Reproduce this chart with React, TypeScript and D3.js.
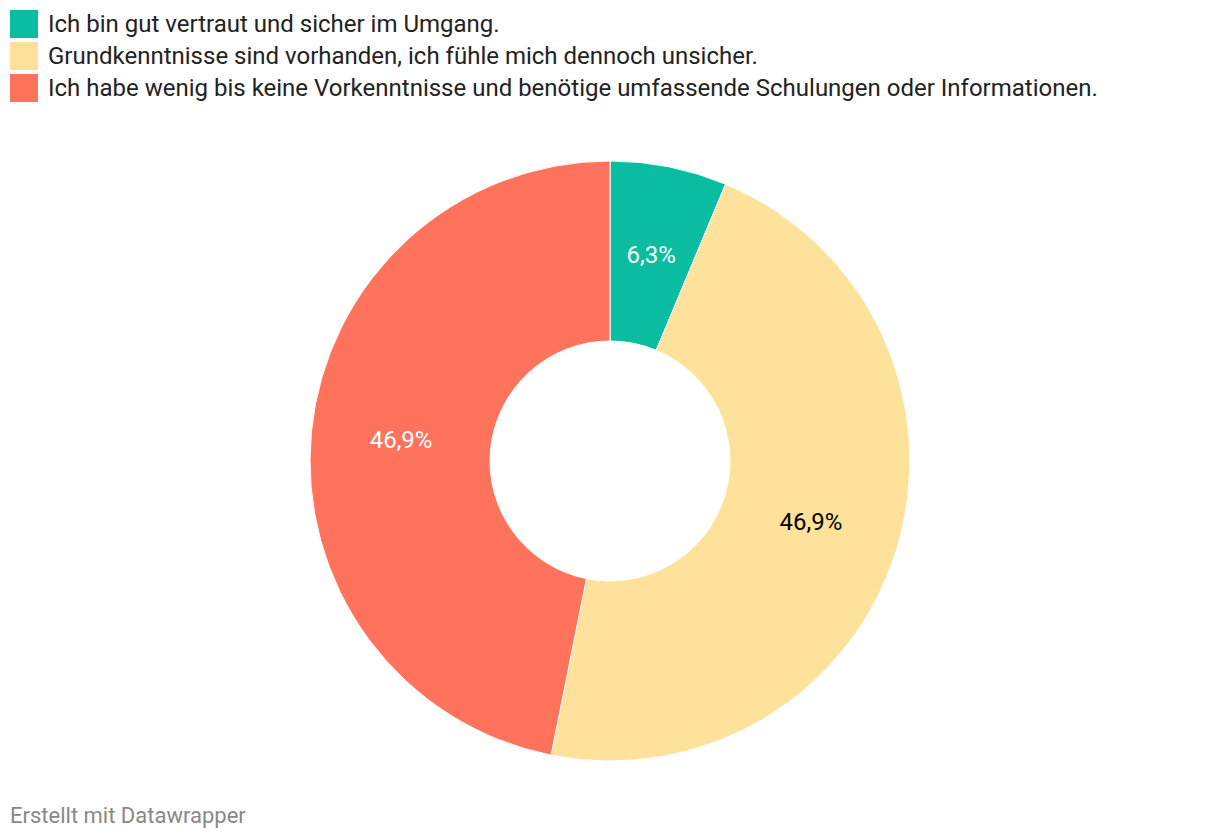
import React from "react";
import * as d3 from "d3";

const categories = [
  "Ich bin gut vertraut und sicher im Umgang.",
  "Grundkenntnisse sind vorhanden, ich fühle mich dennoch unsicher.",
  "Ich habe wenig bis keine Vorkenntnisse und benötige umfassende Schulungen oder Informationen.",
];
const values = [6.3, 46.9, 46.9];
const valueLabels = ["6,3%", "46,9%", "46,9%"];
const colors = ["#0abda0", "#fee29b", "#ff735c"];
const labelColors = ["#ffffff", "#000000", "#ffffff"];
const footer = "Erstellt mit Datawrapper";

const W = 1220;
const H = 838;
const cx = 610;
const cy = 461;
const outerR = 300;
const innerR = 120;

export default function App() {
  const pie = d3.pie<number>().sort(null).value((d) => d);
  const arcs = pie(values);
  const arcGen = d3.arc<d3.PieArcDatum<number>>().innerRadius(innerR).outerRadius(outerR);
  const font = "Roboto, 'Noto Sans', sans-serif";
  return (
    <svg width={W} height={H} style={{ position: "absolute", left: 0, top: 0, background: "#fff" }}>
      <g>
        {categories.map((c, i) => (
          <g key={i} transform={`translate(10, ${10 + i * 32})`}>
            <rect width={28} height={28} fill={colors[i]} />
            <text x={38} y={22} fontFamily={font} fontSize={24} fill="#222">
              {c}
            </text>
          </g>
        ))}
      </g>
      <g transform={`translate(${cx}, ${cy})`}>
        {arcs.map((a, i) => (
          <path key={i} d={arcGen(a) || ""} fill={colors[i]} stroke="#fff" strokeWidth={1} />
        ))}
        {arcs.map((a, i) => {
          const [x, y] = arcGen.centroid(a);
          return (
            <text
              key={"l" + i}
              x={x}
              y={y}
              textAnchor="middle"
              dominantBaseline="central"
              fontFamily={font}
              fontSize={24}
              fill={labelColors[i]}
            >
              {valueLabels[i]}
            </text>
          );
        })}
      </g>
      <text x={10} y={823} fontFamily={font} fontSize={22} fill="#888">
        {footer}
      </text>
    </svg>
  );
}
